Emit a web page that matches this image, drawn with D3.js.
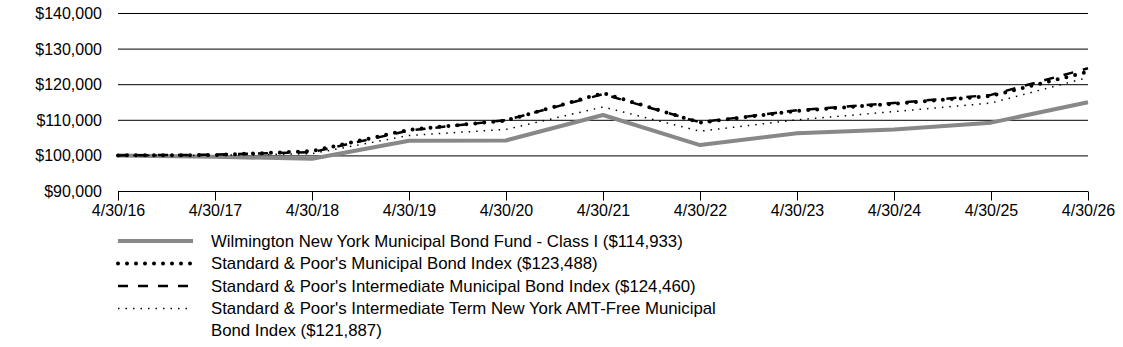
<!DOCTYPE html>
<html>
<head>
<meta charset="utf-8">
<script src="https://cdn.jsdelivr.net/npm/d3@7"></script>
<style>
  body { margin: 0; background: #fff; }
  text { font-family: "Liberation Sans", Arial, sans-serif; fill: #000; }
</style>
</head>
<body>
<div id="chart"></div>
<script>
// data
var dates = ["4/30/16","4/30/17","4/30/18","4/30/19","4/30/20","4/30/21","4/30/22","4/30/23","4/30/24","4/30/25","4/30/26"];
var fund     = [100000, 99600, 99050, 104100, 104200, 111350, 102900, 106200, 107300, 109200, 114933];
var muni     = [100000, 100100, 101200, 107200, 109800, 117500, 109200, 112500, 114500, 116700, 123488];
var interm   = [100000, 100200, 100900, 107000, 109900, 117200, 109300, 112700, 114700, 117000, 124460];
var nyTerm   = [100000, 100000, 100500, 105600, 107300, 113600, 106800, 110000, 112300, 114700, 121887];
var yTicks = [90000, 100000, 110000, 120000, 130000, 140000];

var series = [
  { name: "Wilmington New York Municipal Bond Fund - Class I ($114,933)", values: fund,
    color: "#888", width: 4, dash: null, cap: "butt" },
  { name: "Standard & Poor's Intermediate Municipal Bond Index ($124,460)", values: interm,
    color: "#000", width: 2.5, dash: "10,10", cap: "butt" },
  { name: "Standard & Poor's Municipal Bond Index ($123,488)", values: muni,
    color: "#000", width: 4, dash: "0,9", cap: "round" },
  { name: "Standard & Poor's Intermediate Term New York AMT-Free Municipal|Bond Index ($121,887)", values: nyTerm,
    color: "#000", width: 1.5, dash: "1.5,6", cap: "butt" }
];
var legendOrder = [0, 2, 1, 3];

var config = { width: 1123, height: 347, left: 118, right: 1088, top: 13, bottom: 191 };

var svg = d3.select("#chart").append("svg")
  .attr("width", config.width)
  .attr("height", config.height);

var x = d3.scalePoint().domain(dates).range([config.left, config.right]);
var y = d3.scaleLinear().domain([90000, 140000]).range([config.bottom, config.top]);

// horizontal grid lines
svg.append("g").selectAll("line")
  .data(yTicks)
  .enter().append("line")
  .attr("x1", config.left).attr("x2", config.right)
  .attr("y1", function(d) { return y(d) + 0.5; })
  .attr("y2", function(d) { return y(d) + 0.5; })
  .attr("stroke", "#000").attr("stroke-width", 1);

// y labels
svg.append("g").selectAll("text")
  .data(yTicks)
  .enter().append("text")
  .attr("x", 102)
  .attr("y", function(d) { return y(d) + 6; })
  .attr("text-anchor", "end")
  .attr("font-size", 16)
  .text(function(d) { return "$" + d3.format(",")(d); });

// x axis
var xAxis = d3.axisBottom(x).tickSize(9).tickPadding(4);
var gx = svg.append("g")
  .attr("transform", "translate(0," + (config.bottom + 0.5) + ")")
  .call(xAxis);
gx.select(".domain").remove();
gx.selectAll("line").attr("stroke", "#000");
gx.selectAll("text").attr("font-size", 16)
  .attr("font-family", "Liberation Sans, Arial, sans-serif").attr("fill", "#000");

var line = d3.line()
  .x(function(d, i) { return x(dates[i]); })
  .y(function(d) { return y(d); });

svg.append("g").selectAll("path")
  .data(series)
  .enter().append("path")
  .attr("d", function(s) { return line(s.values); })
  .attr("fill", "none")
  .attr("stroke", function(s) { return s.color; })
  .attr("stroke-width", function(s) { return s.width; })
  .attr("stroke-dasharray", function(s) { return s.dash; })
  .attr("stroke-linecap", function(s) { return s.cap; })
  .attr("stroke-linejoin", "round");

// legend
var rowY = [241, 263.5, 286, 308.5];
var legend = svg.append("g");
legendOrder.forEach(function(si, r) {
  var s = series[si];
  legend.append("line")
    .attr("x1", 118).attr("x2", 193)
    .attr("y1", rowY[r]).attr("y2", rowY[r])
    .attr("stroke", s.color)
    .attr("stroke-width", s.width)
    .attr("stroke-dasharray", s.dash)
    .attr("stroke-linecap", s.cap);
  var parts = s.name.split("|");
  var t = legend.append("text")
    .attr("transform", "translate(211," + (rowY[r] + 5.5) + ") scale(1.05,1)")
    .attr("font-size", 16);
  parts.forEach(function(p, k) {
    t.append("tspan").attr("x", 0).attr("dy", k === 0 ? 0 : 22.5).text(p);
  });
});
</script>
</body>
</html>
